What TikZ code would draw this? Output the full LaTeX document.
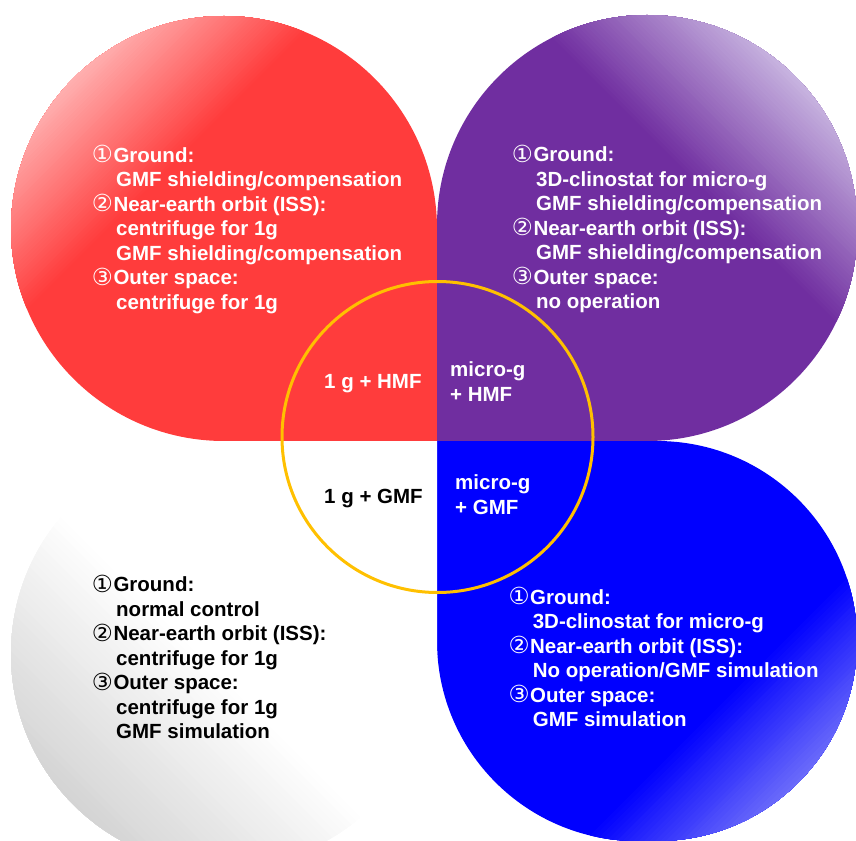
\documentclass[tikz,border=0pt]{standalone}
\usepackage{fontspec}
\setmainfont{Liberation Sans}
\newfontfamily\dejavu{DejaVu Sans}
\definecolor{rbase}{RGB}{255,60,60}
\definecolor{rlight}{RGB}{255,178,178}
\definecolor{pbase}{RGB}{112,46,160}
\definecolor{plight}{RGB}{205,188,228}
\definecolor{bbase}{RGB}{0,0,255}
\definecolor{blight}{RGB}{178,178,246}
\definecolor{gdark}{RGB}{196,196,196}
\definecolor{ringc}{RGB}{255,192,0}
\newcommand\Lines[1]{\vtop{\baselineskip=24.5pt\lineskiplimit=-30pt\lineskip=0pt #1}}
\newcommand\Ln[1]{\hbox{#1}}
\newcommand\Cn[1]{\makebox[20.6pt][l]{\hspace*{-1pt}\raisebox{-0.5pt}{\dejavu\mdseries\fontsize{23.5}{23.5}\selectfont #1}}}
\newcommand\Ind{\hspace*{23.3pt}}
\tikzset{
  txt/.style={inner sep=0pt, anchor=base west, font=\bfseries\fontsize{20.5}{24.5}\selectfont},
  wt/.style={txt, text=white},
  bk/.style={txt, text=black},
  ring/.style={draw=ringc, line width=3pt}
}
\begin{document}
\begin{tikzpicture}[x=1pt,y=-1pt]
\useasboundingbox (0,0) rectangle (856,840);
\clip (0,0) rectangle (856,840);
% red petal
\begin{scope}
\clip (437,441) -- (224,441) arc[start angle=90,end angle=180,radius=213] -- (11,229)
  arc[start angle=180,end angle=270,radius=213] -- (224,16)
  arc[start angle=270,end angle=360,radius=213] -- cycle;
\fill[rbase] (0,0) rectangle (900,900);
\foreach \i in {1,...,48}{
  \pgfmathsetmacro\s{340-\i*(190/48)}
  \pgfmathtruncatemacro\p{round(\i*(100/48))}
  \fill[rlight!\p!rbase] (-100,\s+100) -- (\s+100,-100) -- (-100,-100) -- cycle;
}
\end{scope}
% purple petal
\begin{scope}
\clip (437,441) -- (437,225) arc[start angle=180,end angle=270,radius=210] -- (647,15)
  arc[start angle=270,end angle=360,radius=210] -- (857,231)
  arc[start angle=0,end angle=90,radius=210] -- cycle;
\fill[pbase] (0,0) rectangle (900,900);
\foreach \i in {1,...,48}{
  \pgfmathsetmacro\s{510+\i*(220/48)}
  \pgfmathtruncatemacro\p{round(\i*(100/48))}
  \fill[plight!\p!pbase] (\s-40,-40) -- (1000,-40) -- (1000,1000-\s) -- cycle;
}
\end{scope}
% blue petal
\begin{scope}
\clip (437,441) -- (657,441) arc[start angle=270,end angle=360,radius=200] -- (857,641)
  arc[start angle=0,end angle=90,radius=200] -- (637,841)
  arc[start angle=90,end angle=180,radius=200] -- cycle;
\fill[bbase] (0,0) rectangle (900,900);
\foreach \i in {1,...,48}{
  \pgfmathsetmacro\s{1420+\i*(260/48)}
  \pgfmathtruncatemacro\p{round(\i*(100/48))}
  \fill[blight!\p!bbase] (1000,\s-1000) -- (\s-1000,1000) -- (1000,1000) -- cycle;
}
\end{scope}
% gray petal
\begin{scope}
\clip (437,441) -- (437,654) arc[start angle=0,end angle=90,radius=213] -- (224,867)
  arc[start angle=90,end angle=180,radius=213] -- (11,654)
  arc[start angle=180,end angle=270,radius=213] -- cycle;
\fill[white] (0,0) rectangle (900,900);
\foreach \i in {1,...,48}{
  \pgfmathsetmacro\s{450+\i*(380/48)}
  \pgfmathtruncatemacro\p{round(\i*(100/48))}
  \fill[gdark!\p!white] (-100,\s-100) -- (1000-\s,1000) -- (-100,1000) -- cycle;
}
\end{scope}
% ring
\draw[ring] (437.5,437) circle[radius=155.5];
% texts
\node[wt] (redtxt) at (92.7,162) {\Lines{\Ln{\Cn{①}Ground:}\Ln{\Ind GMF shielding/compensation}\Ln{\Cn{②}Near-earth orbit (ISS):}\Ln{\Ind centrifuge for 1g}\Ln{\Ind GMF shielding/compensation}\Ln{\Cn{③}Outer space:}\Ln{\Ind centrifuge for 1g}}};
\node[wt] (purtxt) at (512.7,161.5) {\Lines{\Ln{\Cn{①}Ground:}\Ln{\Ind 3D-clinostat for micro-g}\Ln{\Ind GMF shielding/compensation}\Ln{\Cn{②}Near-earth orbit (ISS):}\Ln{\Ind GMF shielding/compensation}\Ln{\Cn{③}Outer space:}\Ln{\Ind no operation}}};
\node[bk] (graytxt) at (92.7,591.5) {\Lines{\Ln{\Cn{①}Ground:}\Ln{\Ind normal control}\Ln{\Cn{②}Near-earth orbit (ISS):}\Ln{\Ind centrifuge for 1g}\Ln{\Cn{③}Outer space:}\Ln{\Ind centrifuge for 1g}\Ln{\Ind GMF simulation}}};
\node[wt] (bluetxt) at (509.3,604) {\Lines{\Ln{\Cn{①}Ground:}\Ln{\Ind 3D-clinostat for micro-g}\Ln{\Cn{②}Near-earth orbit (ISS):}\Ln{\Ind No operation/GMF simulation}\Ln{\Cn{③}Outer space:}\Ln{\Ind GMF simulation}}};
\node[wt] (hmfone) at (324,388) {1 g + HMF};
\node[wt] (hmfmicro) at (450,376.5) {\Lines{\Ln{micro-g}\Ln{+ HMF}}};
\node[bk] (gmfone) at (324,503) {1 g + GMF};
\node[wt] (gmfmicro) at (455,489.5) {\Lines{\Ln{micro-g}\Ln{+ GMF}}};
\end{tikzpicture}
\end{document}
